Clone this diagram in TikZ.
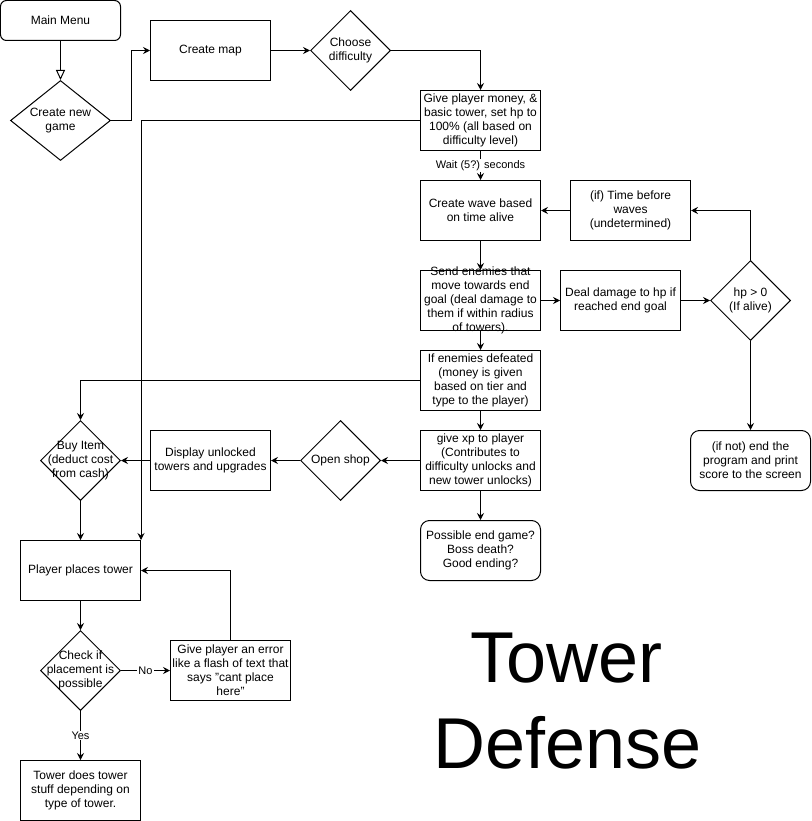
\documentclass[tikz,border=0pt]{standalone}
\usepackage{fontspec}
\setmainfont{Liberation Sans}
\usetikzlibrary{arrows.meta,shapes.geometric}
\begin{document}
\begin{tikzpicture}[x=1pt,y=-1pt,
  box/.style={draw,line width=1pt,minimum width=120pt,minimum height=60pt,inner sep=0pt},
  rbox/.style={box,rounded corners=9pt},
  dia/.style={draw,line width=1pt,diamond,inner sep=0pt,minimum width=80pt,minimum height=80pt},
  txt/.style={align=center,inner sep=0pt,font=\fontsize{12}{14}\selectfont},
  arr/.style={line width=1pt,-{Stealth[length=7pt,width=7pt,inset=2.5pt]}},
  elab/.style={fill=white,inner sep=1pt,font=\fontsize{11}{13}\selectfont}]
\useasboundingbox (-0.5,-0.5) rectangle (810.5,820.5);

% nodes
\node[box,minimum height=40pt,rounded corners=6pt,label={[txt]center:{Main Menu}}] (main) at (60,20) {};
\node[dia,minimum width=100pt,label={[txt]center:{Create new\\game}}] (newgame) at (60,120) {};
\node[box,label={[txt]center:{Create map}}] (map) at (210,50) {};
\node[dia,label={[txt]center:{Choose\\difficulty}}] (diff) at (350,50) {};
\node[box,label={[txt]center:{Give player money, \&\\basic tower, set hp to\\100\% (all based on\\difficulty level)}}] (give) at (480,120) {};
\node[box,label={[txt]center:{Create wave based\\on time alive}}] (wave) at (480,210) {};
\node[box,label={[txt]center:{(if) Time before\\waves\\(undetermined)}}] (time) at (630,210) {};
\node[box,label={[txt]center:{Send enemies that\\move towards end\\goal (deal damage to\\them if within radius\\of towers).}}] (send) at (480,300) {};
\node[box,label={[txt]center:{Deal damage to hp if\\reached end goal}}] (dmg) at (620,300) {};
\node[dia,label={[txt]center:{hp > 0\\(If alive)}}] (hp) at (750,300) {};
\node[rbox,label={[txt]center:{(if not) end the\\program and print\\score to the screen}}] (endp) at (750,460) {};
\node[box,label={[txt]center:{If enemies defeated\\(money is given\\based on tier and\\type to the player)}}] (defeat) at (480,380) {};
\node[box,label={[txt]center:{give xp to player\\(Contributes to\\difficulty unlocks and\\new tower unlocks)}}] (xp) at (480,460) {};
\node[rbox,label={[txt]center:{Possible end game?\\Boss death?\\Good ending?}}] (poss) at (480,550) {};
\node[dia,label={[txt]center:{Open shop}}] (shop) at (340,460) {};
\node[box,label={[txt]center:{Display unlocked\\towers and upgrades}}] (disp) at (210,460) {};
\node[dia,label={[txt]center:{Buy Item\\(deduct cost\\from cash)}}] (buy) at (80,460) {};
\node[box,label={[txt]center:{Player places tower}}] (ppt) at (80,570) {};
\node[dia,label={[txt]center:{Check if\\placement is\\possible}}] (check) at (80,670) {};
\node[box,label={[txt]center:{Give player an error\\like a flash of text that\\says "cant place\\here"}}] (err) at (230,670) {};
\node[box,label={[txt]center:{Tower does tower\\stuff depending on\\type of tower.}}] (tower) at (80,790) {};
\node[anchor=base,inner sep=0pt,font=\fontsize{72}{86}\selectfont] (t1) at (566,682) {Tower};
\node[anchor=base,inner sep=0pt,font=\fontsize{72}{86}\selectfont] (t2) at (567,768) {Defense};

% connectors
\draw[line width=1pt,-{Triangle[open,length=10pt,width=9pt,fill=white]}] (main.south) -- (newgame.north);
\draw[arr] (newgame.east) -- ++(20,0) |- (map.west);
\draw[arr] (map.east) -- (diff.west);
\draw[arr] (diff.east) -| (give.north);
\draw[arr] (give.west) -| (ppt.north east);
\draw[arr] (give.south) -- node[elab] {Wait (5?) seconds} (wave.north);
\draw[arr] (wave.south) -- (send.north);
\draw[arr] (send.east) -- (dmg.west);
\draw[arr] (dmg.east) -- (hp.west);
\draw[arr] (hp.north) |- (time.east);
\draw[arr] (time.west) -- (wave.east);
\draw[arr] (hp.south) -- (endp.north);
\draw[arr] (send.south) -- (defeat.north);
\draw[arr] (defeat.west) -| (buy.north);
\draw[arr] (defeat.south) -- (xp.north);
\draw[arr] (xp.west) -- (shop.east);
\draw[arr] (shop.west) -- (disp.east);
\draw[arr] (disp.west) -- (buy.east);
\draw[arr] (xp.south) -- (poss.north);
\draw[arr] (buy.south) -- (ppt.north);
\draw[arr] (ppt.south) -- (check.north);
\draw[arr] (check.east) -- node[elab] {No} (err.west);
\draw[arr] (err.north) |- (ppt.east);
\draw[arr] (check.south) -- node[elab] {Yes} (tower.north);
\end{tikzpicture}
\end{document}
